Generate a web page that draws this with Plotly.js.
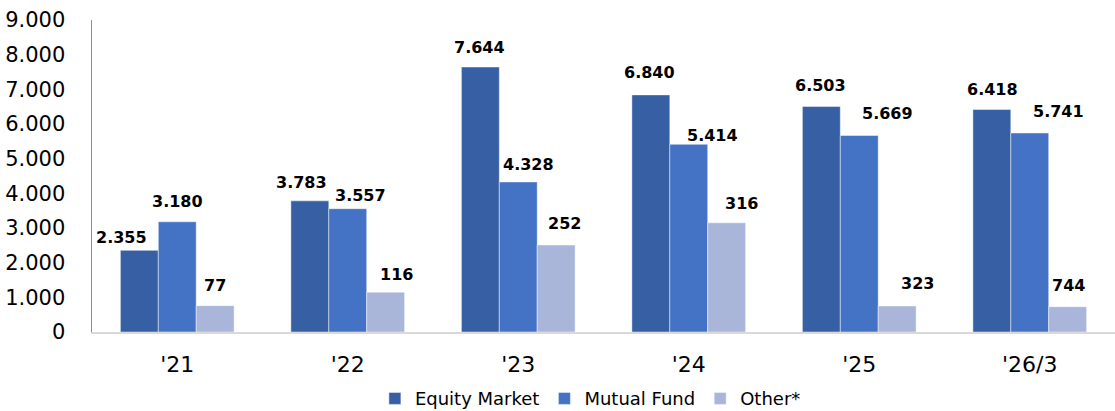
<!DOCTYPE html>
<html>
<head>
<meta charset="utf-8">
<script src="https://cdn.plot.ly/plotly-3.0.1.min.js"></script>
<style>html,body{margin:0;padding:0;background:#fff;}#chart{width:1115px;height:411px;}</style>
</head>
<body>
<div id="chart"></div>
<script>
const categories = ["'21", "'22", "'23", "'24", "'25", "'26/3"];
const equityValues = [2355, 3783, 7644, 6840, 6503, 6418];
const mutualValues = [3180, 3557, 4328, 5414, 5669, 5741];
// "Other*" bar heights as drawn in the reference, and the labels printed on them
const otherValues = [760, 1150, 2510, 3150, 750, 730];
const otherLabels = ["77", "116", "252", "316", "323", "744"];
const seriesNames = ["Equity Market", "Mutual Fund", "Other*"];

// label placement (pixel nudges, as placed in the reference), kept apart from the data
const labelDx = [
  [-18, -8, -1, -1, -1, 1],
  [0, 13, 10, 24, 28, 29],
  [0, 11, 8, 15, 20, 1]
];
const labelDy = [
  [13, 18, 20, 22, 21, 20],
  [20, 13, 17, 9, 22, 21],
  [20, 18, 21, 19, 23, 21]
];

const colors = ["#375FA4", "#4472C4", "#A9B6DA"];
const fmt = v => v.toLocaleString('de-DE');

const seriesVals = [equityValues, mutualValues, otherValues];
const seriesLabels = [equityValues.map(fmt), mutualValues.map(fmt), otherLabels];

const traces = seriesVals.map((vals, i) => ({
  type: 'bar',
  name: seriesNames[i],
  x: categories,
  y: vals,
  marker: {color: colors[i], line: {color: 'rgba(255,255,255,0.45)', width: 1}},
  hoverinfo: 'skip'
}));

const annotations = [];
const offs = [-1, 0, 1];
seriesVals.forEach((vals, i) => {
  vals.forEach((v, j) => {
    annotations.push({
      xref: 'x', yref: 'y',
      x: j + offs[i] * (1 / 3) * (2 / 3),
      y: v,
      text: '<b>' + seriesLabels[i][j] + '</b>',
      showarrow: false,
      xanchor: 'center', yanchor: 'middle',
      xshift: labelDx[i][j],
      yshift: labelDy[i][j],
      font: {family: 'DejaVu Sans, Verdana, sans-serif', size: 16, color: '#000'}
    });
  });
});

const layout = {
  width: 1115, height: 411,
  margin: {l: 92, r: 0, t: 20, b: 79, autoexpand: false},
  paper_bgcolor: '#fff', plot_bgcolor: '#fff',
  separators: ',.',
  barmode: 'group',
  bargap: 0.333,
  bargroupgap: 0,
  showlegend: true,
  font: {family: 'DejaVu Sans, Verdana, sans-serif', color: '#000'},
  xaxis: {
    type: 'category',
    range: [-0.5, 5.5],
    showgrid: false, zeroline: false,
    showline: true, linecolor: '#D9D9D9', linewidth: 2,
    ticks: '', tickfont: {size: 22, color: '#000'},
    ticklabelstandoff: 12
  },
  yaxis: {
    range: [0, 9000],
    tickvals: [0, 1000, 2000, 3000, 4000, 5000, 6000, 7000, 8000, 9000],
    tickformat: ',d',
    showgrid: false, zeroline: false,
    showline: true, linecolor: '#5B9BD5', linewidth: 1.5,
    ticks: '', tickfont: {size: 21, color: '#000'},
    ticklabelstandoff: 21
  },
  legend: {
    orientation: 'h',
    xref: 'container', yref: 'container',
    x: 0.5295, xanchor: 'center',
    y: 0.075, yanchor: 'top',
    font: {size: 18, color: '#000'},
    itemwidth: 30,
    traceorder: 'normal'
  },
  annotations: annotations
};

Plotly.newPlot('chart', traces, layout, {displayModeBar: false, staticPlot: true});
</script>
</body>
</html>
